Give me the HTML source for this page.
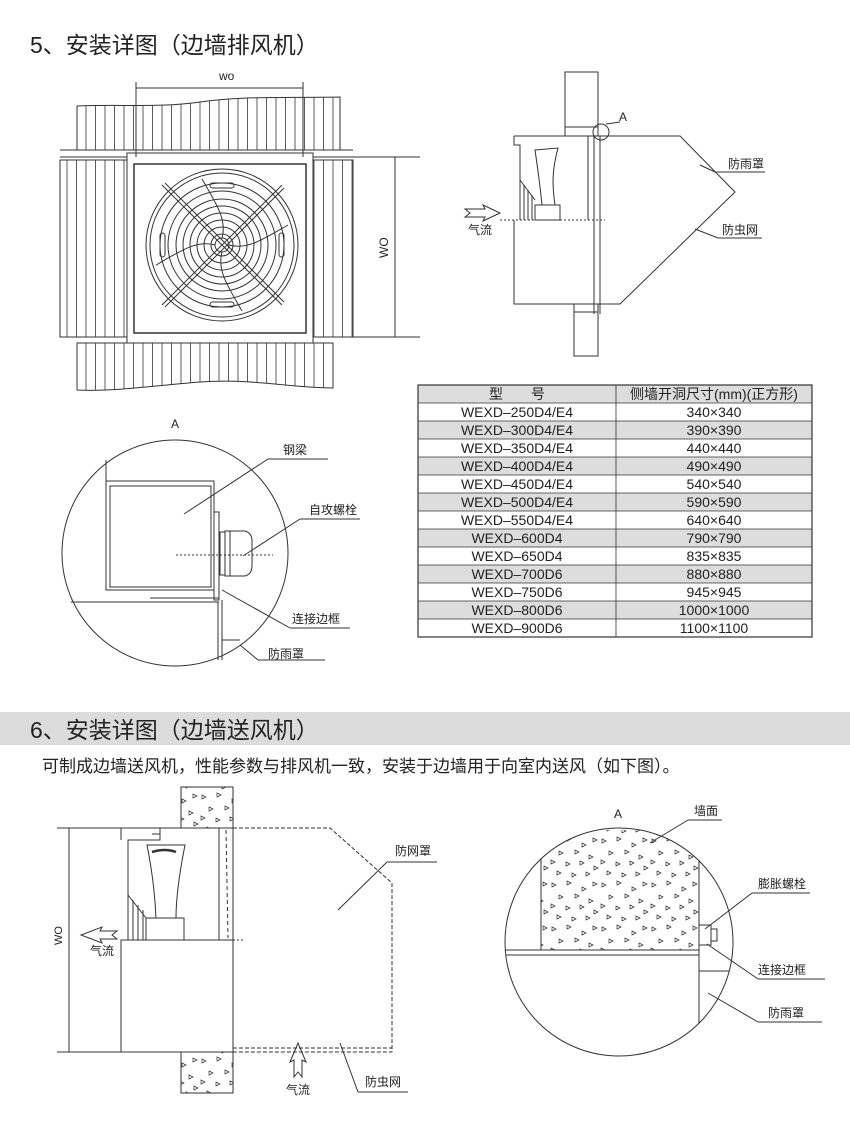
<!DOCTYPE html>
<html><head><meta charset="utf-8"><style>
body{margin:0;background:#fff;}
svg{display:block;font-family:"Liberation Sans","Noto Sans CJK SC",sans-serif;}
</style></head><body>
<svg width="850" height="1141" viewBox="0 0 850 1141" xmlns="http://www.w3.org/2000/svg">
<defs>
<pattern id="vh" width="9.5" height="20" patternUnits="userSpaceOnUse"><line x1="0.5" y1="0" x2="0.5" y2="20" stroke="#333" stroke-width="0.8"/></pattern>
<pattern id="tri" width="50" height="44" patternUnits="userSpaceOnUse">
<g fill="none" stroke="#333" stroke-width="0.7">
<path d="M2 3l4 2l-4 2z"/><path d="M17 1l4 2l-4 2z"/><path d="M32 7l4 2l-4 2z"/><path d="M43 2l4 2l-4 2z"/>
<path d="M9 15l4 2l-4 2z"/><path d="M25 14l4 2l-4 2z"/><path d="M39 19l4 2l-4 2z"/><path d="M1 24l4 2l-4 2z"/>
<path d="M16 26l4 2l-4 2z"/><path d="M30 25l4 2l-4 2z"/><path d="M44 30l4 2l-4 2z"/><path d="M7 35l4 2l-4 2z"/>
<path d="M22 37l4 2l-4 2z"/><path d="M36 36l4 2l-4 2z"/>
</g></pattern>
</defs>
<g fill="#222" font-size="23"><text x="30" y="53">5、安装详图（边墙排风机）</text></g>

<!-- front view -->
<g stroke="#333" stroke-width="1" fill="none">
<path d="M77 106 C120 104 160 108 200 102 C240 96 280 98 340 97 L340 150 L77 150 Z" fill="url(#vh)"/>
<path d="M77 343 L333 343 L333 388 C290 388 250 378 200 382 C150 386 110 392 77 390 Z" fill="url(#vh)"/>
<rect x="60" y="160" width="67" height="177" fill="url(#vh)"/>
<rect x="313" y="160" width="40" height="177" fill="url(#vh)"/>
<line x1="60" y1="150" x2="353" y2="150"/><line x1="60" y1="157" x2="127" y2="157"/><line x1="313" y1="157" x2="420" y2="157"/>
<line x1="60" y1="337" x2="420" y2="337"/>
<rect x="127" y="153" width="186" height="190" fill="#fff"/>
<rect x="134" y="164" width="172" height="169" stroke-width="1.5"/>
<line x1="136" y1="82" x2="136" y2="157"/><line x1="303" y1="82" x2="303" y2="157"/><line x1="136" y1="88" x2="303" y2="88"/>
<line x1="395" y1="157" x2="395" y2="337"/>
<g transform="translate(222,245)">
<circle r="76"/><circle r="72"/><circle r="62"/><circle r="54"/><circle r="46"/><circle r="39"/><circle r="32"/><circle r="25"/><circle r="18"/><circle r="11"/><circle r="7"/>
<line x1="-60" y1="-60" x2="60" y2="60"/><line x1="-57" y1="-62" x2="62" y2="57"/>
<line x1="60" y1="-60" x2="-60" y2="60"/><line x1="62" y1="-57" x2="-57" y2="62"/>
<path d="M-20 -66 C-5 -40 5 -25 0 -7"/><path d="M66 -20 C40 -5 25 5 7 0"/><path d="M20 66 C5 40 -5 25 0 7"/><path d="M-66 20 C-40 5 -25 -5 -7 0"/>
<rect x="-12" y="-62" width="24" height="5" rx="2.5"/><rect x="-12" y="57" width="24" height="5" rx="2.5"/>
<rect x="-62" y="-12" width="5" height="24" rx="2.5"/><rect x="57" y="-12" width="5" height="24" rx="2.5"/>
</g>
</g>
<text x="219" y="80" font-size="12" fill="#222">wo</text>
<text transform="translate(388,258) rotate(-90)" font-size="12" fill="#222">WO</text>

<!-- side view -->
<g stroke="#333" stroke-width="1" fill="none">
<rect x="565" y="72" width="33" height="64"/><line x1="565" y1="127" x2="598" y2="127"/>
<rect x="574" y="304" width="24" height="52"/><line x1="574" y1="312" x2="598" y2="312"/>
<path d="M565 136 L680 136 L735 192 L620 304 L514 304 L514 220"/>
<path d="M514 136 L514 145 L520 145 L520 220"/><line x1="514" y1="136" x2="565" y2="136"/>
<line x1="588" y1="136" x2="588" y2="220"/><line x1="594" y1="136" x2="594" y2="314"/><line x1="600" y1="136" x2="600" y2="314"/>
<path d="M535 150 L558 148 C552 170 552 185 555 205 L542 205 C540 185 538 170 535 150Z"/>
<rect x="535" y="205" width="25" height="15"/>
<path d="M520 180 L535 200 M524 185 L524 220 M528 190 L528 220 M532 195 L532 220"/>
<line x1="500" y1="220" x2="605" y2="220" stroke-dasharray="2,2"/>
<circle cx="601" cy="132" r="8"/><line x1="606" y1="124" x2="620" y2="122"/>
<line x1="700" y1="165" x2="715" y2="172"/><line x1="715" y1="172" x2="765" y2="172"/>
<line x1="695" y1="229" x2="718" y2="238"/><line x1="718" y1="238" x2="762" y2="238"/>
<path d="M465 209 L485 209 L483 205 L500 213 L483 221 L485 217 L465 217 L470 213 Z"/>
</g>
<g font-size="12" fill="#222"><text x="619" y="121">A</text><text x="728" y="168">防雨罩</text><text x="722" y="234">防虫网</text><text x="468" y="234">气流</text></g>

<!-- table -->
<g font-size="14" fill="#222" text-anchor="middle">
<g fill="#ddd"><rect x="418" y="385" width="394" height="18"/><rect x="418" y="421" width="394" height="18"/><rect x="418" y="457" width="394" height="18"/><rect x="418" y="493" width="394" height="18"/><rect x="418" y="529" width="394" height="18"/><rect x="418" y="565" width="394" height="18"/><rect x="418" y="601" width="394" height="18"/></g>
<g stroke="#333" stroke-width="0.8">
<rect x="418" y="385" width="394" height="252" fill="none" stroke-width="1.2"/>
<line x1="616" y1="385" x2="616" y2="637"/>
<line x1="418" y1="403" x2="812" y2="403"/><line x1="418" y1="421" x2="812" y2="421"/><line x1="418" y1="439" x2="812" y2="439"/><line x1="418" y1="457" x2="812" y2="457"/><line x1="418" y1="475" x2="812" y2="475"/><line x1="418" y1="493" x2="812" y2="493"/><line x1="418" y1="511" x2="812" y2="511"/><line x1="418" y1="529" x2="812" y2="529"/><line x1="418" y1="547" x2="812" y2="547"/><line x1="418" y1="565" x2="812" y2="565"/><line x1="418" y1="583" x2="812" y2="583"/><line x1="418" y1="601" x2="812" y2="601"/><line x1="418" y1="619" x2="812" y2="619"/>
</g>
<text x="517" y="399">型　　号</text><text x="714" y="399">侧墙开洞尺寸(mm)(正方形)</text>
<text x="517" y="417">WEXD–250D4/E4</text><text x="714" y="417">340×340</text>
<text x="517" y="435">WEXD–300D4/E4</text><text x="714" y="435">390×390</text>
<text x="517" y="453">WEXD–350D4/E4</text><text x="714" y="453">440×440</text>
<text x="517" y="471">WEXD–400D4/E4</text><text x="714" y="471">490×490</text>
<text x="517" y="489">WEXD–450D4/E4</text><text x="714" y="489">540×540</text>
<text x="517" y="507">WEXD–500D4/E4</text><text x="714" y="507">590×590</text>
<text x="517" y="525">WEXD–550D4/E4</text><text x="714" y="525">640×640</text>
<text x="517" y="543">WEXD–600D4</text><text x="714" y="543">790×790</text>
<text x="517" y="561">WEXD–650D4</text><text x="714" y="561">835×835</text>
<text x="517" y="579">WEXD–700D6</text><text x="714" y="579">880×880</text>
<text x="517" y="597">WEXD–750D6</text><text x="714" y="597">945×945</text>
<text x="517" y="615">WEXD–800D6</text><text x="714" y="615">1000×1000</text>
<text x="517" y="633">WEXD–900D6</text><text x="714" y="633">1100×1100</text>
</g>

<!-- detail A (top) -->
<g stroke="#333" stroke-width="1" fill="none">
<circle cx="175" cy="553" r="113"/>
<line x1="106" y1="460" x2="106" y2="481"/>
<rect x="106" y="481" width="108" height="109"/><rect x="110" y="486" width="101" height="101"/>
<rect x="214" y="512" width="5" height="88"/>
<rect x="220" y="532" width="5" height="43"/><path d="M225 531 L245 531 Q252 533 252 541 L252 566 Q252 574 245 576 L225 576 Z"/>
<line x1="230" y1="531" x2="230" y2="576"/>
<line x1="176" y1="555" x2="273" y2="555" stroke-dasharray="2,2"/>
<line x1="71" y1="602" x2="219" y2="602"/><line x1="150" y1="598" x2="219" y2="598"/>
<line x1="218" y1="602" x2="218" y2="660"/><line x1="222" y1="600" x2="222" y2="660"/>
<line x1="222" y1="640" x2="240" y2="640"/>
<line x1="184" y1="514" x2="268" y2="459"/><line x1="268" y1="459" x2="328" y2="459"/>
<line x1="243" y1="556" x2="300" y2="519"/><line x1="300" y1="519" x2="360" y2="519"/>
<line x1="222" y1="590" x2="290" y2="628"/><line x1="290" y1="628" x2="350" y2="628"/>
<line x1="240" y1="645" x2="258" y2="660"/><line x1="258" y1="660" x2="325" y2="660"/>
</g>
<g font-size="12" fill="#222"><text x="171" y="428">A</text><text x="283" y="454">钢梁</text><text x="309" y="514">自攻螺栓</text><text x="292" y="623">连接边框</text><text x="268" y="658">防雨罩</text></g>

<!-- section 6 header -->
<rect x="0" y="712" width="850" height="33" fill="#dcdcdc"/>
<text x="30" y="738" font-size="23" fill="#222">6、安装详图（边墙送风机）</text>
<text x="42" y="772" font-size="17" fill="#222">可制成边墙送风机，性能参数与排风机一致，安装于边墙用于向室内送风（如下图）。</text>

<!-- bottom left -->
<g stroke="#333" stroke-width="1" fill="none">
<rect x="181" y="787" width="52" height="41" fill="url(#tri)"/>
<rect x="181" y="1052" width="52" height="41" fill="url(#tri)"/>
<line x1="57" y1="828" x2="181" y2="828"/><line x1="57" y1="1052" x2="233" y2="1052"/>
<line x1="69" y1="828" x2="69" y2="1052"/>
<path d="M121 828 L160 828 L160 840 L128 840 L128 940"/><line x1="121" y1="840" x2="121" y2="828"/>
<line x1="152" y1="834" x2="160" y2="834"/>
<rect x="121" y="940" width="112" height="112"/>
<line x1="233" y1="828" x2="233" y2="940"/><line x1="219" y1="828" x2="219" y2="940"/>
<line x1="226" y1="830" x2="228" y2="938" stroke-dasharray="4,3"/>
<path d="M147 845 L185 845 C180 870 176 895 176 918 L156 918 C155 895 152 870 147 845Z"/>
<path d="M152 852 Q165 848 176 852" stroke-width="2.5"/>
<rect x="146" y="918" width="38" height="22"/>
<path d="M128 895 L146 918 M133 900 L133 940 M138 905 L138 940 M143 910 L143 940"/>
<line x1="121" y1="940" x2="245" y2="940" stroke-dasharray="2,2"/>
<path d="M233 828 L330 828 L392 883 L392 1052 L233 1052" stroke-dasharray="4,2"/>
<line x1="233" y1="1048" x2="392" y2="1048" stroke-dasharray="4,2"/>
<line x1="338" y1="910" x2="387" y2="862"/><line x1="387" y1="862" x2="437" y2="862"/>
<line x1="340" y1="1043" x2="358" y2="1092"/><line x1="358" y1="1092" x2="408" y2="1092"/>
<path d="M117 931 L100 931 L102 927 L81 935 L102 943 L100 939 L117 939 L112 935 Z"/>
<path d="M294 1077 L294 1060 L290 1062 L298 1043 L306 1062 L302 1060 L302 1077 L298 1072 Z"/>
</g>
<g font-size="12" fill="#222"><text x="395" y="855">防网罩</text><text x="365" y="1086">防虫网</text><text x="90" y="955">气流</text><text x="286" y="1094">气流</text>
<text transform="translate(62,945) rotate(-90)" font-size="11">WO</text></g>

<!-- bottom right detail -->
<g stroke="#333" stroke-width="1" fill="none">
<clipPath id="cc"><circle cx="619" cy="942" r="114"/></clipPath>
<circle cx="619" cy="942" r="114"/>
<g clip-path="url(#cc)">
<rect x="541" y="830" width="158" height="120" fill="url(#tri)" stroke="none"/>
<line x1="541" y1="858" x2="541" y2="950"/>
<line x1="500" y1="950" x2="699" y2="950"/><line x1="500" y1="955" x2="699" y2="955"/>
<line x1="699" y1="858" x2="699" y2="1023"/>
<line x1="699" y1="971" x2="740" y2="971"/>
</g>
<rect x="699" y="925" width="12" height="20"/><rect x="711" y="929" width="6" height="12"/>
<line x1="650" y1="843" x2="688" y2="820"/><line x1="688" y1="820" x2="722" y2="820"/>
<line x1="705" y1="929" x2="752" y2="893"/><line x1="752" y1="893" x2="810" y2="893"/>
<line x1="707" y1="944" x2="758" y2="979"/><line x1="758" y1="979" x2="825" y2="979"/>
<line x1="708" y1="993" x2="758" y2="1022"/><line x1="758" y1="1022" x2="822" y2="1022"/>
</g>
<g font-size="12" fill="#222"><text x="614" y="818">A</text><text x="694" y="815">墙面</text><text x="758" y="888">膨胀螺栓</text><text x="758" y="974">连接边框</text><text x="768" y="1017">防雨罩</text></g>
</svg>
</body></html>
